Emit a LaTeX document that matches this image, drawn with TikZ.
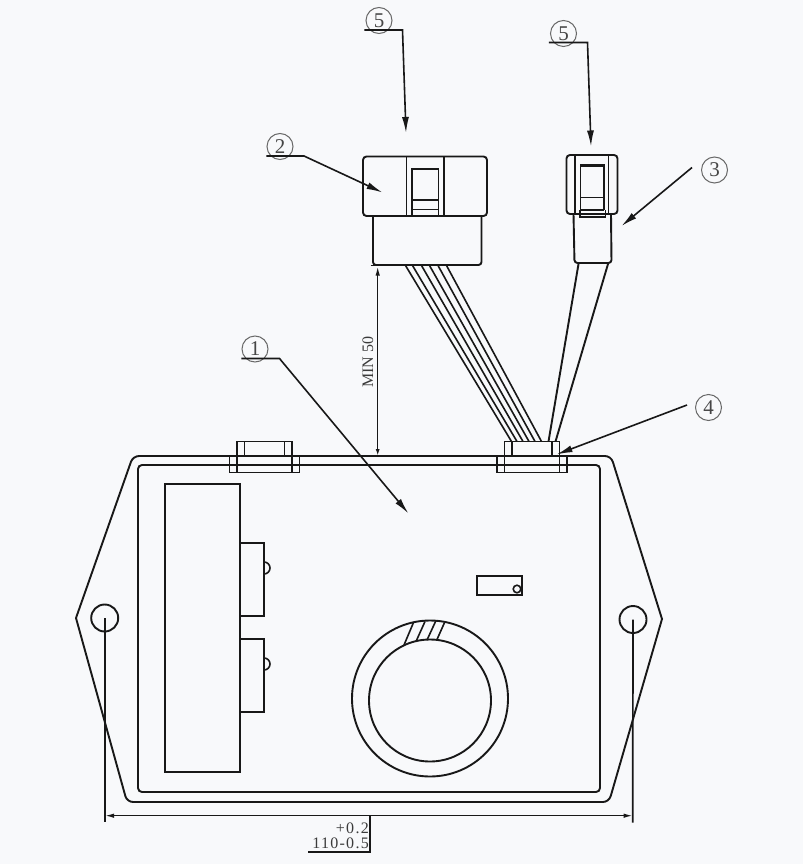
\documentclass[tikz,border=0pt]{standalone}
\usepackage{fontspec}
\setmainfont{Liberation Serif}
\newfontfamily\tolfont[LetterSpace=8.0]{Liberation Serif}
\usetikzlibrary{arrows.meta, positioning}
\definecolor{inkline}{RGB}{24, 24, 24}
\definecolor{paperbg}{RGB}{248, 249, 251}
\tikzset{
  partline/.style={draw=inkline, line width=1.9pt},
  thinpart/.style={draw=inkline, line width=1.6pt},
  leaderline/.style={draw=inkline, line width=1.6pt, -{Latex[length=16pt, width=7pt]}},
  dimline/.style={draw=inkline, line width=1.4pt},
  dimarrow/.style={draw=inkline, line width=1.4pt},
  callout/.style={draw=inkline!65, line width=1pt, circle, minimum size=26pt, inner sep=0pt, text=inkline!80, font=\fontsize{21}{21}\selectfont},
  dimtext/.style={inner sep=0pt, text=inkline!85, font=\fontsize{16}{16}\selectfont},
  toltext/.style={inner sep=0pt, text=inkline!85, font=\fontsize{16}{16}\tolfont}
}
\begin{document}
\begin{tikzpicture}[x=1pt, y=-1pt]
  \fill[paperbg] (0,0) rectangle (803,864);
  \useasboundingbox (0,0) rectangle (803,864);

  % Housing
  \draw[partline] [rounded corners=6pt] (300,456) -- (611,456) [sharp corners] -- (662,619)
    [rounded corners=6pt] -- (609,802) -- (127,802) [sharp corners] -- (76,618)
    [rounded corners=6pt] -- (133,456) -- cycle;
  \draw[partline, rounded corners=4pt] (138,465) rectangle (600,792);
  \draw[partline] (165,484) rectangle (240,772);
  \foreach \ytop/\ybut in {543/580, 639/676} {
    \draw[partline] (240,\ytop) rectangle (264,\ytop+73);
    \draw[thinpart] (264,\ybut-6) arc[start angle=90, end angle=-90, radius=6];
  }

  % Switch and ring
  \draw[partline] (477,576) rectangle (522,595);
  \draw[thinpart] (517,589) circle[radius=3.8];
  \draw[partline] (430,698.5) circle[radius=78];
  \draw[partline] (430,700.5) circle[radius=61];
  \foreach \xa/\ya/\xb/\yb in {404/645/413.5/622.5, 416/641.5/425/621.5, 427/640/436/620.5, 437/639.5/445/621.5}
    \draw[thinpart] (\xa,\ya) -- (\xb,\yb);

  % Mounting holes
  \node[partline, circle, minimum size=27pt, inner sep=0pt] (holeL) at (104.7,618) {};
  \node[partline, circle, minimum size=27pt, inner sep=0pt] (holeR) at (633,619.5) {};

  % Cable clips
  \foreach \xo in {229.5, 497} {
    \draw[partline] (\xo,456) rectangle (\xo+70,472.5);
    \draw[partline] (\xo+7.5,441.5) rectangle (\xo+62.5,472.5);
    \draw[partline] (\xo+15,441.5) -- (\xo+15,456);
    \draw[partline] (\xo+55,441.5) -- (\xo+55,456);
  }

  % Large plug
  \draw[partline, rounded corners=3pt] (373,216) -- (373,265) -- (481.5,265) -- (481.5,216);
  \draw[partline, rounded corners=3.5pt, fill=paperbg] (363,156.5) rectangle (487,216);
  \draw[partline] (406.5,156.5) -- (406.5,216) (444,156.5) -- (444,216);
  \draw[partline] (412,215.5) -- (412,169) -- (438.5,169) -- (438.5,215.5);
  \draw[partline] (412,200) -- (438.5,200) (412,209.5) -- (438.5,209.5);
  \draw[thinpart] (370.5,265.5) -- (376,265.5);

  % Small plug
  \draw[partline, rounded corners=3pt] (573.5,214) -- (574.5,263) -- (611.5,263) -- (611,214);
  \draw[partline, rounded corners=3.5pt, fill=paperbg] (566.5,155) rectangle (617.5,214);
  \draw[partline, rounded corners=2pt] (575,156) -- (575,213) (608.5,156) -- (608.5,213);
  \draw[partline] (580.5,210) -- (580.5,165) -- (604,165) -- (604,210);
  \draw[line width=2.8pt, inkline] (580.5,165.5) -- (604,165.5);
  \draw[thinpart] (580.5,197.5) -- (604,197.5) (580.5,210) -- (604,210);
  \draw[partline] (580,210) -- (580,217) -- (605.5,217) -- (605.5,210);

  % Ribbon and twin lead
  \foreach \xa/\xb in {405.5/511.5, 412.5/517, 421.5/523, 429.5/529, 438/535, 446.5/541.5}
    \draw[thinpart] (\xa,265.5) -- (\xb,441.5);
  \draw[partline] (578.5,264) -- (548.5,441.5) (608,264) -- (555.5,441.5);

  % Callouts
  \node[callout] (numOne) at (255,349) {1};
  \node[callout] (numTwo) at (280,146.5) {2};
  \node[callout] (numThree) at (714.5,170) {3};
  \node[callout] (numFour) at (708.5,407.5) {4};
  \node[callout] (numFiveL) at (379,20.5) {5};
  \node[callout] (numFiveR) at (563.5,33.5) {5};

  \coordinate (tipOne) at (408.5,513.5);
  \coordinate (tipTwo) at (382.5,192.5);
  \coordinate (tipThree) at (621.5,226);
  \coordinate (tipFour) at (556.5,454.5);
  \coordinate (tipFiveL) at (406,133);
  \coordinate (tipFiveR) at (591,146.5);

  \draw[leaderline] (numOne.south west |- 0,358.5) ++(-4,0) -- (279.5,358.5) -- (tipOne);
  \draw[leaderline] (numTwo.south west |- 0,156) ++(-4,0) -- (304,156) -- (tipTwo);
  \draw[leaderline] (numFiveL.south west |- 0,30) ++(-5,0) -- (402.5,30) -- (tipFiveL);
  \draw[leaderline] (numFiveR.south west |- 0,42.5) ++(-5,0) -- (587.5,42.5) -- (tipFiveR);
  \draw[leaderline] (692,167.5) -- (tipThree);
  \draw[leaderline] (687,405) -- (tipFour);

  % Dimensions
  \draw[dimarrow, {Latex[length=9pt, width=4.5pt]}-{Latex[length=7pt, width=4pt]}] (377.7,266.5) -- (377.7,456);
  \node[dimtext, rotate=90] (minText) at (368,362) {MIN 50};
  \draw[dimline, line width=1.7pt] (holeL.center) -- (104.7,822);
  \draw[dimline, line width=1.7pt] (holeR.center) -- (632.7,822.5);
  \draw[dimarrow, {Latex[length=9pt, width=4.5pt]}-{Latex[length=9pt, width=4.5pt]}] (105,815.7) -- (632.7,815.7);
  \draw[dimline] (370,816) -- (370,852) -- (308,852);
  \node[toltext, anchor=east] (tolUp) at (369,828) {+0.2};
  \node[toltext, anchor=east] (tolNom) at (369,843.5) {110-0.5};
\end{tikzpicture}
\end{document}
